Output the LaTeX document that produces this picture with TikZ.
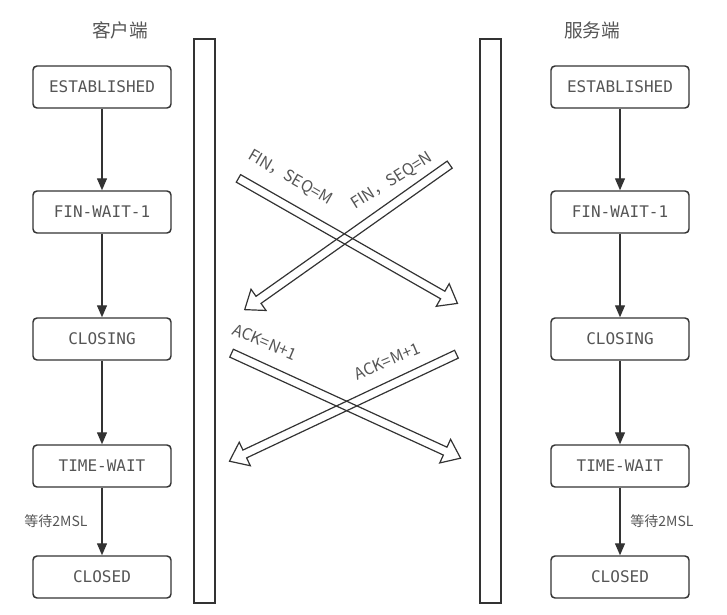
\documentclass[tikz,border=0pt]{standalone}
\usepackage{fontspec}
\setmonofont{DejaVu Sans Mono}
\newfontfamily\cjk{Noto Sans CJK SC}
\usetikzlibrary{positioning,calc,arrows.meta,shapes.arrows}
\definecolor{linegray}{HTML}{333333}
\definecolor{textgray}{HTML}{555555}

\newcommand{\fatarrow}[2]{\path let \p1=($(#2)-(#1)$) in (#1) -- (#2) node[fat, minimum height={veclen(\x1,\y1)}] {};}

\begin{document}
\begin{tikzpicture}[x=0.75pt,y=-0.75pt,
-{Triangle[length=9pt,width=7.5pt]}, on grid, color=linegray,
state/.style={rectangle, rounded corners=3pt, draw, line width=1.1pt,
  text=textgray, minimum width=103.5pt, minimum height=31.5pt,
  font=\ttfamily\fontsize{12}{14}\selectfont},
side/.style={text=textgray, font=\cjk\fontsize{14}{16}\selectfont},
bar/.style={rectangle, draw, line width=1.1pt, minimum width=15.75pt, minimum height=423pt},
fat/.style={single arrow, draw, line width=0.9pt, inner sep=2.8pt,
  single arrow head extend=6.5pt, single arrow tip angle=75,
  sloped, allow upside down, midway},
msg/.style={text=textgray, font=\cjk\fontsize{12}{14}\selectfont},
wait/.style={text=textgray, font=\cjk\fontsize{10.5}{12}\selectfont}]
\useasboundingbox (0,0) rectangle (727,614);

% client side
\node[side] (ctitle) at (120,30) {客户端};
\node[state] (cest) at (102,87) {ESTABLISHED};
\node[state] (cfw) [below=93.75pt of cest] {FIN-WAIT-1};
\node[state] (ccl) [below=95.25pt of cfw] {CLOSING};
\node[state] (ctw) [below=95.25pt of ccl] {TIME-WAIT};
\node[state] (ccd) [below=83.25pt of ctw] {CLOSED};
\draw[line width=1pt] (cest) -- (cfw);
\draw[line width=1pt] (cfw) -- (ccl);
\draw[line width=1pt] (ccl) -- (ctw);
\draw[line width=1pt] (ctw) -- node[wait, anchor=east, xshift=-7pt] {等待2MSL} (ccd);

% server side
\node[side] (stitle) at (592,30) {服务端};
\node[state] (sest) at (620,87) {ESTABLISHED};
\node[state] (sfw) [below=93.75pt of sest] {FIN-WAIT-1};
\node[state] (scl) [below=95.25pt of sfw] {CLOSING};
\node[state] (stw) [below=95.25pt of scl] {TIME-WAIT};
\node[state] (scd) [below=83.25pt of stw] {CLOSED};
\draw[line width=1pt] (sest) -- (sfw);
\draw[line width=1pt] (sfw) -- (scl);
\draw[line width=1pt] (scl) -- (stw);
\draw[line width=1pt] (stw) -- node[wait, anchor=west, xshift=4pt] {等待2MSL} (scd);

% time lines
\node[bar] (cbar) at (204.5,321) {};
\node[bar] (sbar) at (490.5,321) {};

% messages
\coordinate (fmS) at (236,177);
\coordinate (fmE) at (455,302);
\coordinate (fnS) at (452,163);
\coordinate (fnE) at (247,308);
\coordinate (anS) at (229,352);
\coordinate (anE) at (458,457);
\coordinate (amS) at (459,353);
\coordinate (amE) at (232,460);
\fatarrow{fmS}{fmE}
\fatarrow{fnS}{fnE}
\fatarrow{anS}{anE}
\fatarrow{amS}{amE}
\node[msg, rotate=-30] (lfm) at (290,178) {FIN，SEQ=M};
\node[msg, rotate=32] (lfn) at (392,181) {FIN，SEQ=N};
\node[msg, rotate=-23] (lan) at (265,342) {ACK=N+1};
\node[msg, rotate=23] (lam) at (387,361) {ACK=M+1};
\end{tikzpicture}
\end{document}
